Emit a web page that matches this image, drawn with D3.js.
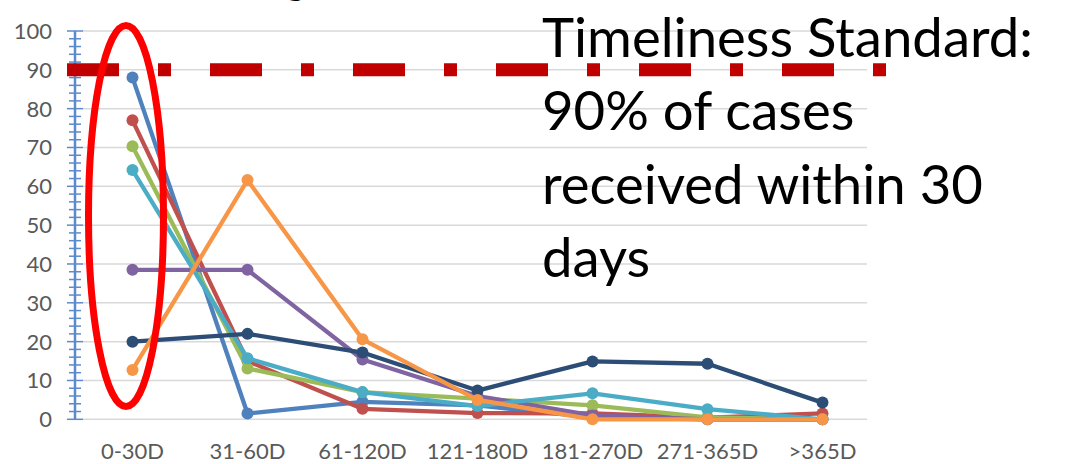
<!DOCTYPE html>
<html>
<head>
<meta charset="utf-8">
<script src="https://cdn.jsdelivr.net/npm/d3@7"></script>
<style>
    body { margin: 0; background: #fff; }
    svg { display: block; }
</style>
</head>
<body>
<div id="chart"></div>
<script>
// categories and series (% of cases)
const categories = ["0-30D", "31-60D", "61-120D", "121-180D", "181-270D", "271-365D", ">365D"];
const blueVals   = [88, 1.5, 4.5, 3.6, 0.5, 0, 0];
const redVals    = [77, 15, 2.7, 1.6, 1.5, 0.4, 1.5];
const greenVals  = [70.3, 13.1, 7, 5.3, 3.6, 0.5, 0];
const purpleVals = [38.5, 38.5, 15.4, 6, 1, 0, 0];
const cyanVals   = [64.2, 15.7, 7, 3.4, 6.7, 2.6, 0];
const navyVals   = [20, 22, 17.2, 7.4, 14.9, 14.3, 4.3];
const orangeVals = [12.7, 61.6, 20.6, 5, 0, 0, 0];
const yTicks = [0, 10, 20, 30, 40, 50, 60, 70, 80, 90, 100];
const standard = 90;
const noteLines = ["Timeliness Standard:", "90% of cases", "received within 30", "days"];

const W = 1065, H = 464;

const svg = d3.select("#chart")
    .append("svg")
    .attr("width", W)
    .attr("height", H);

const xScale = d3.scalePoint().domain(categories).range([75, 880]).padding(0.5);
const yScale = d3.scaleLinear().domain([0, 100]).range([419.3, 31]);

// cut-off title, only its descender shows at the top edge (as in the original)
svg.append("text")
    .attr("x", 306).attr("y", -6)
    .attr("text-anchor", "end")
    .attr("font-family", "Lato, sans-serif")
    .attr("font-size", 40)
    .attr("fill", "#000")
    .text("Timing");

// gridlines
svg.append("g")
    .selectAll("line")
    .data(yTicks)
    .join("line")
    .attr("x1", 83).attr("x2", 867)
    .attr("y1", d => yScale(d)).attr("y2", d => yScale(d))
    .attr("stroke", "#d9d9d9")
    .attr("stroke-width", 1.5);

// y axis with minor ticks every 2
const axisColor = "#5b8bcc";
const yAxisG = svg.append("g").attr("transform", "translate(75,0)");
yAxisG.append("line")
    .attr("y1", yScale(100)).attr("y2", yScale(0))
    .attr("stroke", axisColor).attr("stroke-width", 2.5);
yAxisG.selectAll(".minor")
    .data(d3.range(0, 101, 2))
    .join("line")
    .attr("class", "minor")
    .attr("x1", d => d % 10 === 0 ? -8 : -6)
    .attr("x2", d => d % 10 === 0 ? 8 : 6)
    .attr("y1", d => yScale(d)).attr("y2", d => yScale(d))
    .attr("stroke", axisColor)
    .attr("stroke-width", 1.5);
yAxisG.selectAll(".lbl")
    .data(yTicks)
    .join("text")
    .attr("class", "lbl")
    .attr("x", -23)
    .attr("y", d => yScale(d))
    .attr("dy", "0.36em")
    .attr("text-anchor", "end")
    .attr("font-family", "Lato, sans-serif")
    .attr("font-size", 22)
    .attr("fill", "#595959")
    .text(d => d);

// x labels
svg.append("g")
    .selectAll("text")
    .data(categories)
    .join("text")
    .attr("x", d => xScale(d))
    .attr("y", 458.5)
    .attr("text-anchor", "middle")
    .attr("font-family", "Lato, sans-serif")
    .attr("font-size", 22)
    .attr("fill", "#595959")
    .text(d => d);

// series, in drawing order
const series = [
    {name: "blue", color: "#4f81bd", values: blueVals},
    {name: "red", color: "#c0504d", values: redVals},
    {name: "green", color: "#9bbb59", values: greenVals},
    {name: "purple", color: "#8064a2", values: purpleVals},
    {name: "cyan", color: "#4bacc6", values: cyanVals},
    {name: "navy", color: "#2c4d75", values: navyVals},
    {name: "orange", color: "#f79646", values: orangeVals}
];

const lineGen = d3.line()
    .x((d, i) => xScale(categories[i]))
    .y(d => yScale(d));

series.forEach(s => {
    const g = svg.append("g");
    g.append("path")
        .datum(s.values)
        .attr("d", lineGen)
        .attr("fill", "none")
        .attr("stroke", s.color)
        .attr("stroke-width", 4.3)
        .attr("stroke-linejoin", "round");
    g.selectAll("circle")
        .data(s.values)
        .join("circle")
        .attr("cx", (d, i) => xScale(categories[i]))
        .attr("cy", d => yScale(d))
        .attr("r", 6)
        .attr("fill", s.color);
});

// 90% standard line (long dash dot)
svg.append("line")
    .attr("x1", 67).attr("x2", 886)
    .attr("y1", yScale(standard)).attr("y2", yScale(standard))
    .attr("stroke", "#c00000")
    .attr("stroke-width", 13)
    .attr("stroke-dasharray", "52,39,13,39");

// red ellipse round the first category
svg.append("ellipse")
    .attr("cx", 126).attr("cy", 216)
    .attr("rx", 37.5).attr("ry", 190.5)
    .attr("fill", "none")
    .attr("stroke", "#ff0000")
    .attr("stroke-width", 7);

// note text
const note = svg.append("text")
    .attr("font-family", "Lato, sans-serif")
    .attr("font-size", 53)
    .attr("fill", "#000");
note.selectAll("tspan")
    .data(noteLines)
    .join("tspan")
    .attr("x", 542)
    .attr("y", (d, i) => 57 + i * 73.3)
    .text(d => d);

// fit first line to its width in the picture
const firstLen = note.select("tspan").node().getComputedTextLength();
note.attr("font-size", 53 * 491 / firstLen);
</script>
</body>
</html>
